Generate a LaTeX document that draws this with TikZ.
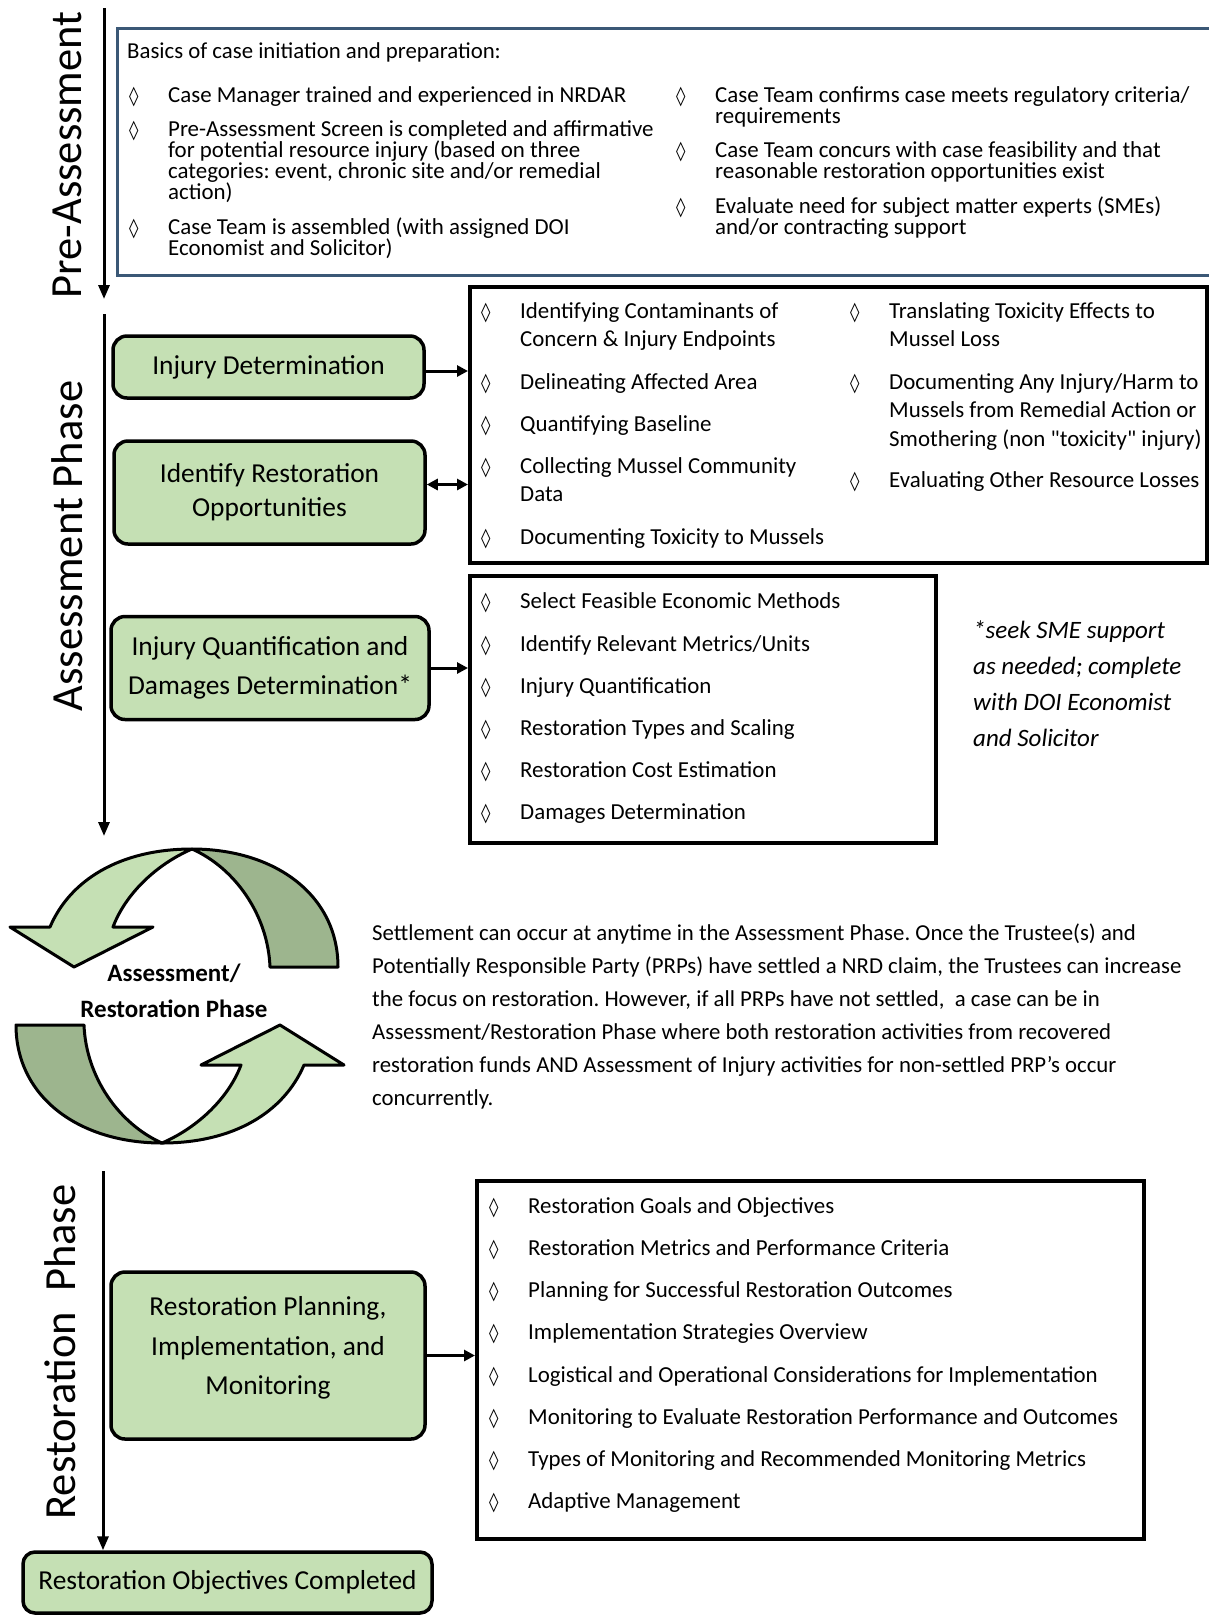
\documentclass[tikz,border=0pt]{standalone}
\usepackage{fontspec}
\setmainfont{Carlito}
\newfontfamily\symfont{DejaVu Sans}
\usetikzlibrary{arrows.meta}
\frenchspacing

\definecolor{boxgreen}{RGB}{197,224,180}
\definecolor{bandgreen}{RGB}{157,181,142}
\definecolor{slateblue}{RGB}{59,88,118}

\newcommand\fs[2]{\fontsize{#1}{#2}\selectfont}
\newcommand\dmd{{\symfont\fs{19}{19}◊}}
\newcommand\bitem[2]{\makebox[36pt][l]{\hspace*{-3pt}\dmd}\parbox[t]{#1}{\raggedright\lineskiplimit=-100pt\relax #2}}

\tikzset{
  greenbox/.style={draw, line width=3.5pt, rounded corners=14pt, fill=boxgreen, align=center, inner sep=0pt, font=\fs{27.4}{34}},
  listbox/.style={draw, line width=4pt, inner sep=0pt},
  item/.style={anchor=base west, inner sep=0pt},
  axis/.style={line width=3pt, -{Triangle[length=14pt,width=11pt]}},
  conn/.style={line width=3pt, -{Triangle[length=11pt,width=11pt]}},
  phase/.style={rotate=90, inner sep=0pt, font=\fs{44.5}{44.5}},
  band/.style={draw, line width=3pt, line join=round},
}

\begin{document}
\begin{tikzpicture}[x=1pt, y=-1pt]
\useasboundingbox (0,0) rectangle (1209,1615);

% pre-assessment
\node[phase] (prelabel) at (67,155) {Pre-Assessment};
\coordinate (pre top) at (104,8);
\coordinate (pre end) at (104,299);
\draw[axis] (pre top) -- (pre end);

\node[draw=slateblue, line width=3pt, minimum width=1110pt, minimum height=247pt, anchor=north west] (prebox) at (116,27) {};
\node[item, font=\fs{22.8}{22.8}] (basics) at (127,58) {Basics of case initiation and preparation:};
\foreach \yy/\txt [count=\i] in {102/{Case Manager trained and experienced in NRDAR},
    136/{Pre-Assessment Screen is completed and affirmative\\for potential resource injury (based on three\\categories: event, chronic site and/or remedial\\action)},
    234/{Case Team is assembled (with assigned DOI\\Economist and Solicitor)}}
  \node[item, font=\fs{22.9}{21.3}] (preL\i) at (132,\yy) {\bitem{500pt}{\txt}};
\foreach \yy/\txt [count=\i] in {102/{Case Team confirms case meets regulatory criteria/\\requirements},
    157/{Case Team concurs with case feasibility and that\\reasonable restoration opportunities exist},
    213/{Evaluate need for subject matter experts (SMEs)\\and/or contracting support}}
  \node[item, font=\fs{22.9}{21.3}] (preR\i) at (679,\yy) {\bitem{500pt}{\txt}};

% assessment phase
\node[phase] (asslabel) at (67,546) {Assessment Phase};
\coordinate (ass top) at (104,314);
\coordinate (ass end) at (104,836);
\draw[axis] (ass top) -- (ass end);

\node[greenbox, minimum width=311pt, minimum height=62pt] (injdet) at (268.5,367) {Injury Determination};
\node[greenbox, minimum width=311pt, minimum height=103pt] (idrest) at (269.5,492.5) {Identify Restoration\\Opportunities};
\node[greenbox, minimum width=318pt, minimum height=103pt, font=\fs{27.4}{39}] (injquant) at (270,668) {Injury Quantification and\\Damages Determination*};

\node[listbox, minimum width=737pt, minimum height=276pt] (injlist) at (838.5,425) {};
\foreach \yy/\txt [count=\i] in {318/{Identifying Contaminants of\\Concern \& Injury Endpoints},
    389/{Delineating Affected Area}, 431/{Quantifying Baseline},
    473/{Collecting Mussel Community\\Data}, 544/{Documenting Toxicity to Mussels}}
  \node[item, font=\fs{22.9}{28.8}] (injL\i) at (484,\yy) {\bitem{320pt}{\txt}};
\foreach \yy/\txt [count=\i] in {318/{Translating Toxicity Effects to\\Mussel Loss},
    389/{Documenting Any Injury/Harm to\\Mussels from Remedial Action or\\Smothering (non \textquotedbl toxicity\textquotedbl\ injury)},
    487/{Evaluating Other Resource Losses}}
  \node[item, font=\fs{22.9}{28.8}] (injR\i) at (853,\yy) {\bitem{330pt}{\txt}};

\node[listbox, minimum width=466pt, minimum height=267pt] (damlist) at (703,709.5) {};
\foreach \yy/\txt [count=\i] in {608/{Select Feasible Economic Methods},
    651/{Identify Relevant Metrics/Units}, 693/{Injury Quantification},
    735/{Restoration Types and Scaling}, 777/{Restoration Cost Estimation},
    819/{Damages Determination}}
  \node[item, font=\fs{22.9}{28.8}] (dam\i) at (484,\yy) {\bitem{380pt}{\txt}};

\node[item, font=\fs{25}{36.3}\itshape] (smenote) at (973,638)
  {\parbox[t]{230pt}{\raggedright *seek SME support\\as needed; complete\\with DOI Economist\\and Solicitor}};

\draw[conn] ([yshift=-4pt]injdet.east) -- ([yshift=-4pt]injdet.east -| injlist.west);
\draw[conn, {Triangle[length=11pt,width=11pt]}-{Triangle[length=11pt,width=11pt]}] ([yshift=8pt]idrest.east) -- ([yshift=8pt]idrest.east -| injlist.west);
\draw[conn] (injquant.east) -- (injquant.east -| damlist.west);

% assessment/restoration cycle
\foreach \ang in {0,180}{
  \begin{scope}[rotate around={\ang:(177,996)}]
    \path[band, fill=bandgreen] (192,849) .. controls (275,849) and (338,895) .. (338,967)
      -- (270,967) .. controls (268,915) and (235,868) .. (192,849) -- cycle;
    \path[band, fill=boxgreen] (50,927) .. controls (70,880) and (120,849) .. (192,849)
      .. controls (155,865) and (125,895) .. (113,927) -- (153,927) -- (74,967) -- (10,927) -- cycle;
  \end{scope}
}
\node[font=\bfseries\fs{25}{36}, align=center] (cyclelabel) at (174,991) {Assessment/\\Restoration Phase};

\node[item, font=\fs{22.8}{33}] (settle) at (372,940) {\parbox[t]{860pt}{\raggedright
  Settlement can occur at anytime in the Assessment Phase. Once the Trustee(s) and\\
  Potentially Responsible Party (PRPs) have settled a NRD claim, the Trustees can increase\\
  the focus on restoration. However, if all PRPs have not settled,\ \ a case can be in\\
  Assessment/Restoration Phase where both restoration activities from recovered\\
  restoration funds AND Assessment of Injury activities for non-settled PRP’s occur\\
  concurrently.}};

% restoration phase
\node[phase] (reslabel) at (60,1352) {Restoration\ \ Phase};
\coordinate (res top) at (103,1171);

\node[greenbox, minimum width=314pt, minimum height=167pt] (restplan) at (268,1355.5) {};
\node[font=\fs{27.4}{39.5}, align=center, inner sep=0pt] (restplantext) at (268,1348) {Restoration Planning,\\Implementation, and\\Monitoring};

\node[listbox, minimum width=667pt, minimum height=358pt] (restlist) at (810.5,1360) {};
\foreach \yy/\txt [count=\i] in {1213/{Restoration Goals and Objectives},
    1255/{Restoration Metrics and Performance Criteria},
    1297/{Planning for Successful Restoration Outcomes},
    1339/{Implementation Strategies Overview},
    1382/{Logistical and Operational Considerations for Implementation},
    1424/{Monitoring to Evaluate Restoration Performance and Outcomes},
    1466/{Types of Monitoring and Recommended Monitoring Metrics},
    1508/{Adaptive Management}}
  \node[item, font=\fs{22.9}{28.8}] (res\i) at (492,\yy) {\bitem{620pt}{\txt}};

\draw[conn] (restplan.east) -- (restplan.east -| restlist.west);

\node[greenbox, rounded corners=12pt, minimum width=409pt, minimum height=61pt] (done) at (227.5,1582.5) {Restoration Objectives Completed};
\draw[axis] (res top) -- (res top |- done.north);
\end{tikzpicture}
\end{document}
